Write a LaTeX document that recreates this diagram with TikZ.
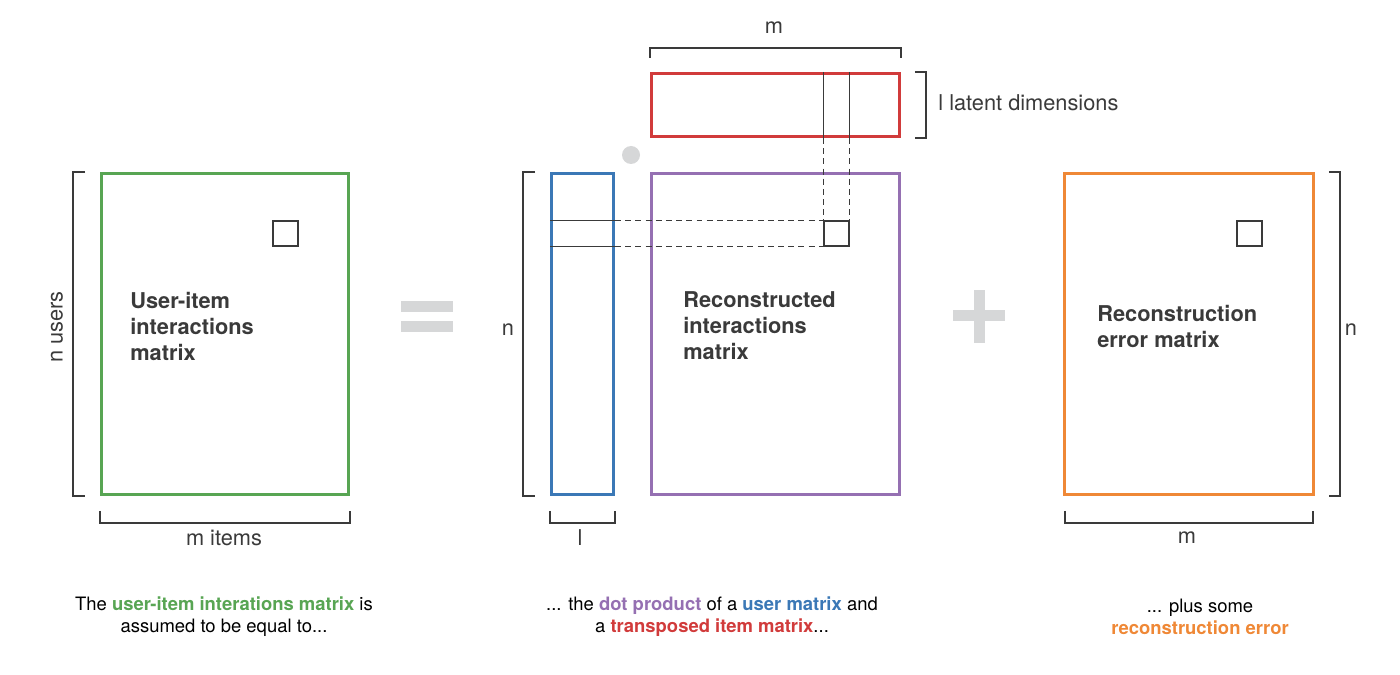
\documentclass[tikz,border=0pt]{standalone}
\usepackage{fontspec}
\setmainfont{TeX Gyre Heros}
\usepackage{xcolor}
\usepackage{tikz}
\usetikzlibrary{calc, positioning}

\definecolor{matgreen}{HTML}{58A553}
\definecolor{matred}{HTML}{D13B3B}
\definecolor{matblue}{HTML}{3B78B6}
\definecolor{matpurple}{HTML}{9570B2}
\definecolor{matorange}{HTML}{EF8836}
\definecolor{opgrey}{HTML}{D6D7D8}
\definecolor{ink}{HTML}{3A3A3A}

\begin{document}
\begin{tikzpicture}[x=0.02cm, y=-0.02cm,
    matrix box/.style={draw, line width=1.7pt, anchor=north west, inner sep=0,
      minimum height=6.42cm},
    cell/.style={draw=ink, line width=0.75pt, minimum size=0.5cm, inner sep=0},
    bracket/.style={draw=ink, line width=0.75pt},
    guide/.style={draw=ink, line width=0.75pt, dash pattern=on 3.4pt off 2.4pt},
    dim label/.style={text=ink, font=\fontsize{12.4}{14}\selectfont, inner sep=0},
    title/.style={text=ink, font=\bfseries\fontsize{12.4}{14.8}\selectfont,
      align=left, anchor=west, inner sep=0},
    caption/.style={font=\fontsize{10.5}{12.6}\selectfont, align=center, inner sep=0}
  ]
  \useasboundingbox (0,0) rectangle (1400,675);

  % user-item matrix
  \node[matrix box, draw=matgreen, minimum width=4.94cm] (green) at (100,172) {};
  \node[cell] (cellG) at (285.5,233.5) {};
  \node[title] (greentitle) at (130,326) {User-item\\interactions\\matrix};
  \draw[bracket] ($(green.north west)+(-15,0)$) -- ++(-12,0) -- ($(green.south west)+(-27,0)$) -- ++(12,0);
  \draw[bracket] ($(green.south west)+(0,15)$) -- ++(0,12) -- ($(green.south east)+(0,27)$) -- ++(0,-12);
  \node[dim label, rotate=90] (nusers) at (57,327) {n users};
  \node[dim label] (mitems) at (224,538) {m items};

  % equals
  \fill[opgrey] (401,301) rectangle (453,312);
  \fill[opgrey] (401,321) rectangle (453,332);

  % user matrix, item matrix and their product
  \node[matrix box, draw=matblue, minimum width=1.24cm] (blue) at (550,172) {};
  \node[matrix box, draw=matred, minimum width=4.96cm, minimum height=1.26cm] (red) at (650,72) {};
  \node[matrix box, draw=matpurple, minimum width=4.96cm] (purple) at (650,172) {};
  \node[circle, fill=opgrey, minimum size=0.36cm, inner sep=0] (dot) at (631,155) {};
  \node[cell] (cellP) at (836.5,233.5) {};
  \node[title] (purpletitle) at (683,326) {Reconstructed\\interactions\\matrix};

  \draw[bracket] (blue.west |- cellP.north) -- (blue.east |- cellP.north);
  \draw[bracket] (blue.west |- cellP.south) -- (blue.east |- cellP.south);
  \draw[guide] (blue.east |- cellP.north) -- (cellP.north west);
  \draw[guide] (blue.east |- cellP.south) -- (cellP.south west);
  \draw[bracket] (red.north -| cellP.west) -- (red.south -| cellP.west);
  \draw[bracket] (red.north -| cellP.east) -- (red.south -| cellP.east);
  \draw[guide] (red.south -| cellP.west) -- (cellP.north west);
  \draw[guide] (red.south -| cellP.east) -- (cellP.north east);

  \draw[bracket] ($(red.north west)+(0,-14)$) -- ++(0,-10) -- ($(red.north east)+(0,-24)$) -- ++(0,10);
  \node[dim label] (mtop) at (774,28) {m};
  \draw[bracket] ($(red.north east)+(14,0)$) -- ++(11,0) -- ($(red.south east)+(25,0)$) -- ++(-11,0);
  \node[dim label, anchor=west] (latent) at (938,103) {l latent dimensions};
  \draw[bracket] ($(blue.north west)+(-15,0)$) -- ++(-12,0) -- ($(blue.south west)+(-27,0)$) -- ++(12,0);
  \node[dim label] (nmid) at (508,330) {n};
  \draw[bracket] ($(blue.south west)+(0,15)$) -- ++(0,12) -- ($(blue.south east)+(0,27)$) -- ++(0,-12);
  \node[dim label] (lmid) at (580,538) {l};

  % plus
  \fill[opgrey] (953,310.5) rectangle (1005,321.5);
  \fill[opgrey] (973.5,290) rectangle (984.5,343);

  % error matrix
  \node[matrix box, draw=matorange, minimum width=4.98cm] (orange) at (1063,172) {};
  \node[cell] (cellE) at (1249.5,233.5) {};
  \node[title] (orangetitle) at (1097,326) {Reconstruction\\error matrix};
  \draw[bracket] ($(orange.north east)+(14,0)$) -- ++(11,0) -- ($(orange.south east)+(25,0)$) -- ++(-11,0);
  \node[dim label] (nright) at (1351,330) {n};
  \draw[bracket] ($(orange.south west)+(2,15)$) -- ++(0,12) -- ($(orange.south east)+(-2,27)$) -- ++(0,-12);
  \node[dim label] (mright) at (1187,538) {m};

  % captions
  \node[caption] (capleft) at (224,617)
    {The \textcolor{matgreen}{\bfseries user-item interations matrix} is\\assumed to be equal to...};
  \node[caption] (capmid) at (712,617)
    {... the \textcolor{matpurple}{\bfseries dot product} of a \textcolor{matblue}{\bfseries user matrix} and\\a \textcolor{matred}{\bfseries transposed item matrix}...};
  \node[caption] (capright) at (1200,617)
    {... plus some\\\textcolor{matorange}{\bfseries reconstruction error}};
\end{tikzpicture}
\end{document}
